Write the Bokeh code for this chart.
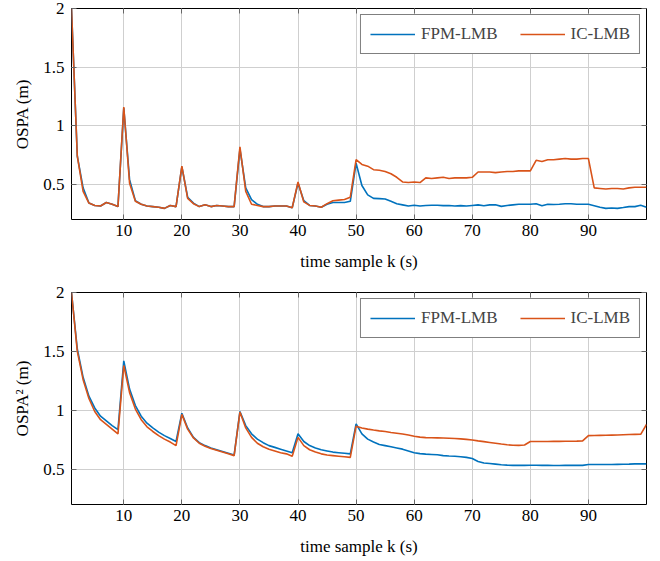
from bokeh.plotting import figure
from bokeh.layouts import column
from bokeh.models import FixedTicker, LinearAxis, Range1d, Legend, LegendItem
from bokeh.embed import file_html
from bokeh.resources import INLINE

k = list(range(1, 101))

ospa_fpm = [2.0, 0.74, 0.47, 0.34, 0.32, 0.315, 0.345, 0.33, 0.31, 1.15,
            0.54, 0.36, 0.33, 0.315, 0.31, 0.305, 0.295, 0.32, 0.31, 0.65,
            0.39, 0.34, 0.31, 0.325, 0.31, 0.32, 0.315, 0.31, 0.31, 0.80,
            0.47, 0.37, 0.33, 0.31, 0.31, 0.315, 0.315, 0.315, 0.30, 0.51,
            0.36, 0.32, 0.315, 0.305, 0.33, 0.345, 0.345, 0.345, 0.355, 0.68,
            0.49, 0.41, 0.38, 0.378, 0.375, 0.355, 0.335, 0.325, 0.315, 0.322,
            0.315, 0.32, 0.322, 0.322, 0.318, 0.32, 0.315, 0.318, 0.315, 0.32,
            0.325, 0.318, 0.325, 0.325, 0.312, 0.32, 0.325, 0.33, 0.33, 0.33,
            0.335, 0.318, 0.33, 0.328, 0.33, 0.335, 0.335, 0.33, 0.33, 0.33,
            0.318, 0.305, 0.295, 0.298, 0.295, 0.302, 0.31, 0.31, 0.322, 0.305]

ospa_ic = [2.0, 0.74, 0.44, 0.34, 0.32, 0.315, 0.345, 0.33, 0.31, 1.16,
           0.51, 0.355, 0.33, 0.315, 0.31, 0.305, 0.295, 0.32, 0.31, 0.655,
           0.38, 0.335, 0.31, 0.325, 0.31, 0.32, 0.315, 0.31, 0.31, 0.82,
           0.44, 0.33, 0.32, 0.31, 0.31, 0.315, 0.315, 0.315, 0.30, 0.52,
           0.35, 0.32, 0.315, 0.305, 0.335, 0.36, 0.365, 0.37, 0.39, 0.71,
           0.67, 0.655, 0.625, 0.62, 0.61, 0.59, 0.56, 0.52, 0.515, 0.52,
           0.515, 0.555, 0.55, 0.555, 0.56, 0.55, 0.555, 0.555, 0.555, 0.56,
           0.605, 0.605, 0.605, 0.60, 0.605, 0.61, 0.61, 0.615, 0.615, 0.615,
           0.705, 0.695, 0.71, 0.71, 0.715, 0.72, 0.715, 0.715, 0.72, 0.72,
           0.47, 0.465, 0.46, 0.465, 0.465, 0.46, 0.47, 0.475, 0.475, 0.475]

ospa2_fpm = [2.0, 1.52, 1.28, 1.12, 1.02, 0.95, 0.91, 0.87, 0.835, 1.42,
             1.18, 1.04, 0.95, 0.89, 0.85, 0.815, 0.785, 0.76, 0.735, 0.975,
             0.85, 0.77, 0.725, 0.70, 0.68, 0.665, 0.65, 0.635, 0.62, 0.99,
             0.87, 0.80, 0.755, 0.725, 0.70, 0.685, 0.67, 0.655, 0.64, 0.80,
             0.735, 0.70, 0.68, 0.665, 0.655, 0.645, 0.64, 0.635, 0.63, 0.885,
             0.80, 0.755, 0.73, 0.71, 0.70, 0.69, 0.68, 0.67, 0.655, 0.64,
             0.632, 0.628, 0.625, 0.622, 0.615, 0.612, 0.61, 0.606, 0.60, 0.59,
             0.565, 0.552, 0.548, 0.543, 0.538, 0.534, 0.532, 0.532, 0.532, 0.533,
             0.533, 0.532, 0.532, 0.531, 0.531, 0.532, 0.532, 0.532, 0.532, 0.54,
             0.54, 0.54, 0.54, 0.54, 0.541, 0.542, 0.543, 0.545, 0.545, 0.545]

ospa2_ic = [2.0, 1.50, 1.26, 1.10, 0.99, 0.92, 0.88, 0.84, 0.80, 1.38,
            1.15, 1.01, 0.92, 0.86, 0.82, 0.785, 0.755, 0.73, 0.70, 0.965,
            0.84, 0.765, 0.72, 0.695, 0.675, 0.66, 0.645, 0.63, 0.615, 0.985,
            0.85, 0.77, 0.72, 0.69, 0.67, 0.655, 0.64, 0.63, 0.61, 0.77,
            0.70, 0.665, 0.645, 0.63, 0.62, 0.615, 0.61, 0.605, 0.60, 0.865,
            0.85, 0.84, 0.832, 0.825, 0.82, 0.812, 0.805, 0.798, 0.79, 0.78,
            0.772, 0.768, 0.767, 0.766, 0.765, 0.763, 0.76, 0.757, 0.753, 0.748,
            0.74, 0.734, 0.727, 0.72, 0.713, 0.707, 0.703, 0.702, 0.705, 0.735,
            0.735, 0.735, 0.735, 0.736, 0.736, 0.737, 0.737, 0.738, 0.74, 0.785,
            0.786, 0.787, 0.788, 0.789, 0.79, 0.792, 0.794, 0.795, 0.796, 0.88]

x_ticks = [10, 20, 30, 40, 50, 60, 70, 80, 90]
y_ticks = [0.5, 1, 1.5, 2]
y_tick_labels = {0.5: "0.5", 1: "1", 1.5: "1.5", 2: "2"}
series_names = ["FPM-LMB", "IC-LMB"]
colors = ["#0072BD", "#D95319"]

FONT = "Liberation Serif"
FS = "17px"


def make_plot(y1, y2, ylabel, height, b_top, b_bottom):
    p = figure(width=652, height=height, output_backend="svg", toolbar_location=None,
               x_range=Range1d(1, 100), y_range=Range1d(0.2, 2),
               min_border_left=71, min_border_right=6,
               min_border_top=b_top, min_border_bottom=b_bottom)
    p.outline_line_color = "black"
    p.outline_line_width = 1
    p.background_fill_color = "white"
    p.border_fill_color = "white"
    for ax in (p.xaxis[0], p.yaxis[0]):
        ax.axis_line_color = None
        ax.major_tick_in = 5
        ax.major_tick_out = 0
        ax.minor_tick_line_color = None
        ax.major_tick_line_color = "#666666"
        ax.major_label_text_font = FONT
        ax.major_label_text_font_size = FS
        ax.major_label_text_color = "black"
        ax.axis_label_text_font = FONT
        ax.axis_label_text_font_size = FS
        ax.axis_label_text_font_style = "normal"
        ax.axis_label_text_color = "black"
    p.xaxis[0].ticker = FixedTicker(ticks=x_ticks)
    p.yaxis[0].ticker = FixedTicker(ticks=y_ticks)
    p.yaxis[0].major_label_overrides = y_tick_labels
    p.xaxis[0].axis_label = "time sample k (s)"
    p.yaxis[0].axis_label = ylabel
    p.xaxis[0].major_label_standoff = 5
    p.yaxis[0].major_label_standoff = 7
    p.xaxis[0].axis_label_standoff = 13
    p.yaxis[0].axis_label_standoff = 8

    for loc, ticks in (("right", y_ticks), ("above", x_ticks)):
        ax = LinearAxis(ticker=FixedTicker(ticks=ticks),
                        major_label_overrides={t: "" for t in ticks},
                        axis_line_color=None, major_tick_in=5, major_tick_out=0,
                        major_tick_line_color="#666666", minor_tick_line_color=None,
                        major_label_standoff=0, major_label_text_font_size="1px")
        p.add_layout(ax, loc)

    p.xgrid.ticker = FixedTicker(ticks=x_ticks)
    p.ygrid.ticker = FixedTicker(ticks=y_ticks)
    p.grid.grid_line_color = "#cfcfcf"
    p.grid.grid_line_width = 1

    r1 = p.line(k, y1, line_color=colors[0], line_width=1.6)
    r2 = p.line(k, y2, line_color=colors[1], line_width=1.6)
    legend = Legend(items=[LegendItem(label=series_names[0], renderers=[r1]),
                           LegendItem(label=series_names[1], renderers=[r2])],
                    location="top_right", orientation="horizontal")
    legend.border_line_color = "black"
    legend.border_line_width = 1
    legend.background_fill_alpha = 1
    legend.margin = 6
    legend.padding = 9
    legend.spacing = 22
    legend.glyph_width = 45
    legend.label_standoff = 6
    legend.label_text_font = FONT
    legend.label_text_font_size = FS
    legend.label_height = 20
    legend.glyph_height = 20
    p.add_layout(legend, "center")
    return p


p1 = make_plot(ospa_fpm, ospa_ic, "OSPA (m)", 280, 8, 61)
p2 = make_plot(ospa2_fpm, ospa2_ic, "OSPA² (m)", 281, 12, 57)
layout = column(p1, p2, spacing=0)

open("out.html", "w").write(file_html(layout, INLINE))
